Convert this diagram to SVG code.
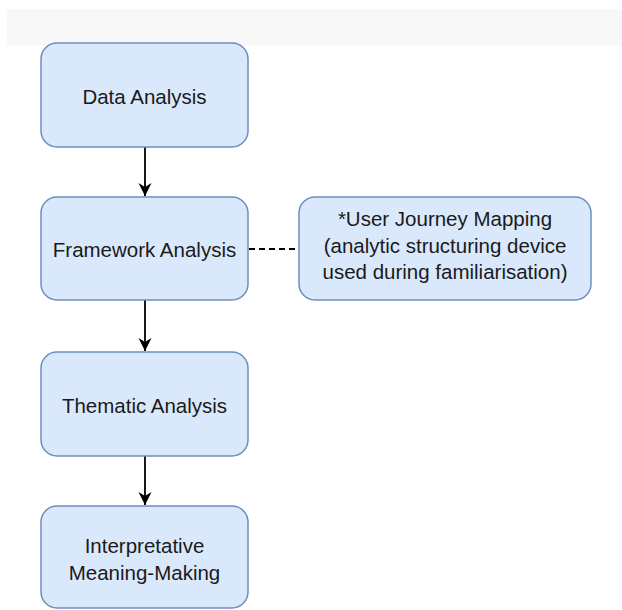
<svg xmlns="http://www.w3.org/2000/svg" width="622" height="610" viewBox="0 0 622 610">
<style>
.box{fill:#dae8fc;stroke:#6c8ebf;stroke-width:1.5}
.t{font-family:"Liberation Sans",Arial,sans-serif;font-size:20.5px;fill:#1a1a1a;text-anchor:middle}
.edge{stroke:#000;stroke-width:1.8;fill:none}
</style>
<defs>
<marker id="arr" markerWidth="14" markerHeight="14" refX="13" refY="6.5" orient="auto" markerUnits="userSpaceOnUse">
<path d="M0,0 L13,6.5 L0,13 L4,6.5 Z" fill="#000"/>
</marker>
</defs>
<rect x="0" y="0" width="622" height="610" fill="#fff"/>
<rect x="7" y="9" width="615" height="37" fill="#f8f8f8"/>
<g id="connectors">
<line class="edge" x1="145" y1="147" x2="145" y2="196" marker-end="url(#arr)"/>
<line class="edge" x1="145" y1="300" x2="145" y2="351" marker-end="url(#arr)"/>
<line class="edge" x1="145" y1="456" x2="145" y2="505" marker-end="url(#arr)"/>
<line class="edge" x1="249" y1="249" x2="299" y2="249" stroke-dasharray="6,4"/>
</g>
<g id="data-analysis">
<rect class="box" x="41" y="43" width="207" height="104" rx="16"/>
<text class="t" x="144.5" y="104">Data Analysis</text>
</g>
<g id="framework-analysis">
<rect class="box" x="41" y="197" width="207" height="103" rx="16"/>
<text class="t" x="144.5" y="257">Framework Analysis</text>
</g>
<g id="user-journey-mapping">
<rect class="box" x="299" y="197" width="292" height="103" rx="16"/>
<text class="t" x="445" y="226">*User Journey Mapping</text>
<text class="t" x="445" y="253">(analytic structuring device</text>
<text class="t" x="445" y="279">used during familiarisation)</text>
</g>
<g id="thematic-analysis">
<rect class="box" x="41" y="352" width="207" height="104" rx="16"/>
<text class="t" x="144.5" y="413">Thematic Analysis</text>
</g>
<g id="interpretative-meaning-making">
<rect class="box" x="41" y="506" width="207" height="102" rx="16"/>
<text class="t" x="144.5" y="553">Interpretative</text>
<text class="t" x="144.5" y="580">Meaning-Making</text>
</g>
</svg>
